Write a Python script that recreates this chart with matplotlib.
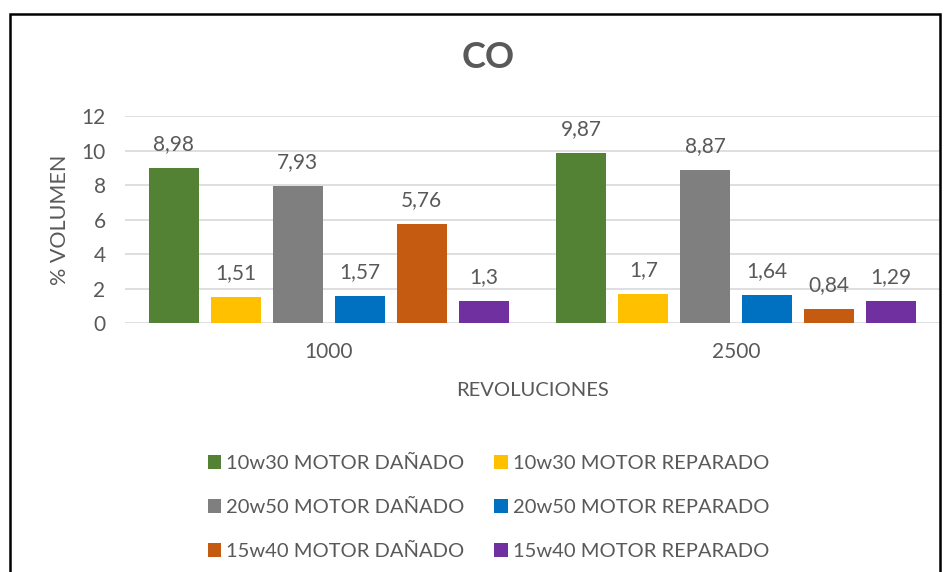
import matplotlib.pyplot as plt
from matplotlib.patches import Rectangle

plt.rcParams['font.family'] = ['Lato', 'DejaVu Sans']

revs = ['1000', '2500']
series = ['10w30 MOTOR DAÑADO', '10w30 MOTOR REPARADO',
          '20w50 MOTOR DAÑADO', '20w50 MOTOR REPARADO',
          '15w40 MOTOR DAÑADO', '15w40 MOTOR REPARADO']
values = [[8.98, 9.87],
          [1.51, 1.7],
          [7.93, 8.87],
          [1.57, 1.64],
          [5.76, 0.84],
          [1.3, 1.29]]
colors = ['#548235', '#FFC000', '#7F7F7F', '#0070C0', '#C55A11', '#7030A0']
txt = '#595959'

fig = plt.figure(figsize=(9.47, 5.72), dpi=100)
ax = fig.add_axes([0.132, 0.4353, 0.8606, 0.3619])

step = 0.152
width = 0.123
bars = []
for i, name in enumerate(series):
    xs = [k + (i - 2.5) * step for k in range(len(revs))]
    b = ax.bar(xs, values[i], width, color=colors[i], label=name, zorder=3)
    bars.append(b)
    for x, v in zip(xs, values[i]):
        ax.annotate(str(v).replace('.', ','), (x, v), xytext=(0, 10),
                    textcoords='offset points', ha='center', va='bottom',
                    fontsize=15, color=txt)

ax.set_xlim(-0.5, 1.5)
ax.set_ylim(0, 12)
ax.set_yticks(range(0, 13, 2))
ax.set_xticks([0, 1])
ax.set_xticklabels(revs)
ax.tick_params(length=0, labelsize=15, colors=txt)
ax.tick_params(axis='x', pad=14)
ax.tick_params(axis='y', pad=14)
ax.grid(axis='y', color='#D9D9D9', linewidth=1.2, zorder=0)
for s in ax.spines.values():
    s.set_visible(False)

ax.set_ylabel('% VOLUMEN', fontsize=15.5, color=txt, labelpad=8)
ax.set_xlabel('REVOLUCIONES', fontsize=14.5, color=txt, labelpad=14)
fig.text(0.515, 0.899, 'CO', fontsize=26, fontweight='bold', color=txt,
         ha='center', va='center')

# legend filled column-wise, so order handles to read row by row
order = [0, 2, 4, 1, 3, 5]
leg = fig.legend([bars[i] for i in order], [series[i] for i in order],
                 ncol=2, loc='upper left', bbox_to_anchor=(0.2196, 0.205),
                 frameon=False, fontsize=14.5, labelcolor=txt,
                 borderpad=0, borderaxespad=0,
                 handlelength=0.67, handleheight=0.67, handletextpad=0.25,
                 columnspacing=1.45, labelspacing=1.35)

# chart border
fig.patches.append(Rectangle((0.011, -0.05), 0.982, 1 - 0.025 + 0.05,
                             transform=fig.transFigure, fill=False,
                             edgecolor='black', linewidth=1.8))

fig.savefig('out.png', dpi=100)
